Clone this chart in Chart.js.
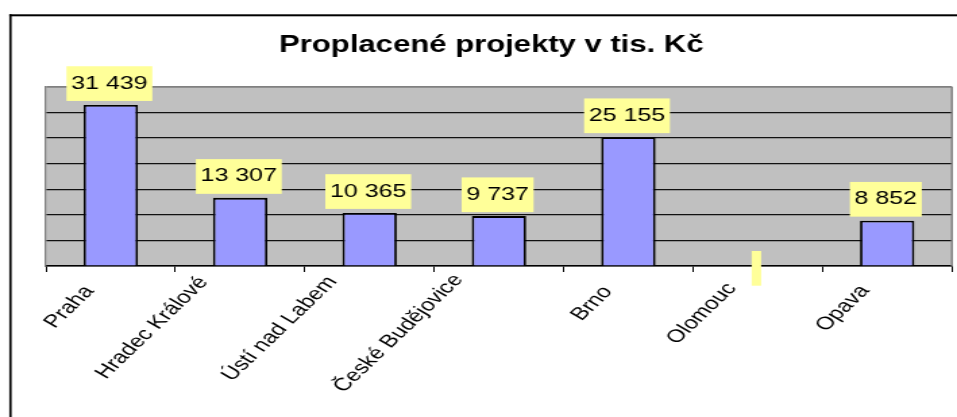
<!DOCTYPE html>
<html>
<head>
<meta charset="utf-8">
<title>Proplacené projekty v tis. Kč</title>
<script src="https://cdn.jsdelivr.net/npm/chart.js@4.4.1/dist/chart.umd.min.js"></script>
<style>
  body { margin: 0; background: #fff; }
  /* the original chart is stretched sideways, so draw narrow and widen with css */
  #chart { display: block; width: 957px !important; height: 417px !important; }
</style>
</head>
<body>
<canvas id="chart" width="709" height="417" style="width:957px;height:417px"></canvas>
<script>
const cities = ['Praha', 'Hradec Králové', 'Ústí nad Labem', 'České Budějovice', 'Brno', 'Olomouc', 'Opava'];
const amounts = [31439, 13307, 10365, 9737, 25155, null, 8852];
const yMax = 35000;
const yStep = 5000;

const FONT = '"Liberation Sans", Arial, sans-serif';
const fmt = v => String(v).replace(/\B(?=(\d{3})+(?!\d))/g, ' ');

const frame = {
  id: 'frame',
  beforeDraw(chart) {
    const { ctx, chartArea: a, width, height } = chart;
    ctx.save();
    ctx.fillStyle = '#fff';
    ctx.fillRect(0, 0, width, height);
    ctx.fillStyle = '#000';
    ctx.fillRect(6.9, 14.3, width, 2);
    ctx.fillRect(6.9, 14.3, 1.7, height);
    ctx.fillStyle = '#c0c0c0';
    ctx.fillRect(a.left, a.top, a.right - a.left, a.bottom - a.top);
    ctx.restore();
  },
  beforeDatasetsDraw(chart) {
    const { ctx, chartArea: a } = chart;
    ctx.save();
    ctx.strokeStyle = '#808080';
    ctx.lineWidth = 1.5;
    ctx.beginPath();
    ctx.moveTo(a.right, a.top);
    ctx.lineTo(a.right, a.bottom);
    ctx.stroke();
    ctx.restore();
  }
};

const valueBoxes = {
  id: 'valueBoxes',
  afterDatasetsDraw(chart) {
    const { ctx } = chart;
    const meta = chart.getDatasetMeta(0);
    const xs = chart.scales.x, ys = chart.scales.y;
    ctx.save();
    ctx.font = '18.5px ' + FONT;
    ctx.textAlign = 'center';
    ctx.textBaseline = 'alphabetic';
    amounts.forEach((v, i) => {
      const cx = xs.getPixelForValue(i) - 1;
      const txt = v == null ? '' : fmt(v);
      const w = ctx.measureText(txt).width + 7;
      const h = 34.7;
      const bottom = v == null ? ys.getPixelForValue(0) + 19.7 : meta.data[i].y - 4;
      ctx.fillStyle = '#ffff99';
      ctx.fillRect(cx - w / 2, bottom - h, w, h);
      ctx.fillStyle = '#000';
      ctx.fillText(txt, cx, bottom - 12.4);
    });
    ctx.restore();
  }
};

// slanted category names; long ones sit a bit higher and further left, like in the source
const cityLabels = {
  id: 'cityLabels',
  afterDraw(chart) {
    const { ctx } = chart;
    const xs = chart.scales.x;
    ctx.save();
    ctx.font = '18px ' + FONT;
    ctx.fillStyle = '#000';
    ctx.textAlign = 'right';
    ctx.textBaseline = 'middle';
    cities.forEach((name, i) => {
      const extra = Math.max(ctx.measureText(name).width - 44, 0);
      const x = xs.getPixelForValue(i) - 15.2 - 0.148 * extra;
      const y = xs.top + 22.6 - 0.12 * extra;
      ctx.save();
      ctx.translate(x, y);
      ctx.rotate(-52 * Math.PI / 180);
      ctx.fillText(name, 0, 0);
      ctx.restore();
    });
    ctx.restore();
  }
};

new Chart(document.getElementById('chart'), {
  type: 'bar',
  data: {
    labels: cities,
    datasets: [{
      data: amounts,
      backgroundColor: '#9999ff',
      borderColor: '#000',
      borderWidth: 1.8,
      categoryPercentage: 1,
      barPercentage: 0.42
    }]
  },
  options: {
    responsive: false,
    animation: false,
    devicePixelRatio: 1,
    layout: { padding: { left: 22.8, right: 3.8, top: 0, bottom: 0 } },
    plugins: {
      legend: { display: false },
      tooltip: { enabled: false },
      title: {
        display: true,
        text: 'Proplacené projekty v tis. Kč',
        color: '#000',
        font: { family: FONT, size: 23, weight: 'bold', lineHeight: 1.2 },
        padding: { top: 31.8, bottom: 27.3 }
      }
    },
    scales: {
      x: {
        afterFit(scale) { scale.height = 151; },
        border: { color: '#000', width: 1.5 },
        grid: { drawOnChartArea: false, tickLength: 6, color: '#000', lineWidth: 1 },
        ticks: { display: false, autoSkip: false }
      },
      y: {
        min: 0,
        max: yMax,
        afterFit(scale) { scale.width = 11.3; },
        border: { color: '#808080', width: 1.3 },
        grid: {
          drawTicks: false,
          color: c => c.tick.value === yMax ? '#808080' : '#111',
          lineWidth: c => c.tick.value === yMax ? 1.8 : 1.2
        },
        ticks: { display: false, stepSize: yStep }
      }
    }
  },
  plugins: [frame, valueBoxes, cityLabels]
});
</script>
</body>
</html>
